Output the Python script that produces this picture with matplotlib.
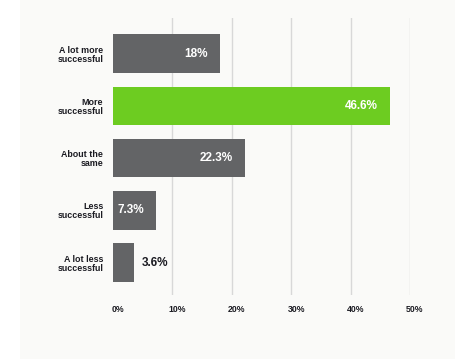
import matplotlib
matplotlib.use("Agg")
import matplotlib.pyplot as plt
from matplotlib.patches import Rectangle
from matplotlib.transforms import ScaledTranslation

categories = ["A lot more\nsuccessful", "More\nsuccessful", "About the\nsame", "Less\nsuccessful", "A lot less\nsuccessful"]
values = [18, 46.6, 22.3, 7.3, 3.6]
value_labels = ["18%", "46.6%", "22.3%", "7.3%", "3.6%"]
colors = ["#636466", "#6dcc21", "#636466", "#636466", "#636466"]
xticks = [0, 10, 20, 30, 40, 50]
xtick_labels = ["0%", "10%", "20%", "30%", "40%", "50%"]

plt.rcParams['font.family'] = ['Liberation Sans', 'DejaVu Sans']
txt = "#1b1b22"

W, H = 455, 359
fig = plt.figure(figsize=(W / 100, H / 100), dpi=100)
fig.patch.set_facecolor("white")
fig.patches.append(Rectangle((20 / W, 0), 1 - 20 / W, 1, transform=fig.transFigure,
                             facecolor="#fafaf8", edgecolor="none", zorder=-5))

ax = fig.add_axes([113 / W, 1 - 295 / H, (410 - 113) / W, (295 - 18) / H])
ax.set_zorder(2)
ax.set_facecolor("none")
ypos = list(range(len(categories)))
ax.barh(ypos, values, height=0.735, color=colors, zorder=3)
ax.set_xlim(0, 50)
ax.set_ylim(4.62, -0.68)

for x in xticks[1:]:
    ax.axvline(x, color="#d8d8d8", lw=1.0, zorder=1)

for s in ax.spines.values():
    s.set_visible(False)

ax.set_yticks(ypos)
ax.set_yticklabels(categories, fontsize=6.4, fontweight="bold", color=txt, linespacing=1.0)
ax.tick_params(axis="y", length=0, pad=7)
ax.set_xticks(xticks)
ax.set_xticklabels(xtick_labels, fontsize=6.3, fontweight="bold", color=txt)
ax.tick_params(axis="x", length=0, pad=7)
off = ScaledTranslation(5 / 100, 0, fig.dpi_scale_trans)
for lab in ax.get_xticklabels():
    lab.set_transform(lab.get_transform() + off)

for y, v, lab in zip(ypos, values, value_labels):
    if v > 5:
        ax.annotate(lab, (v, y), xytext=(-9, 0), textcoords="offset points",
                    ha="right", va="center", color="white", fontsize=8.5, fontweight="bold", zorder=4)
    else:
        ax.annotate(lab, (v, y), xytext=(5, 0), textcoords="offset points",
                    ha="left", va="center", color=txt, fontsize=8.5, fontweight="bold", zorder=4)

fig.savefig("out.png", dpi=100)
